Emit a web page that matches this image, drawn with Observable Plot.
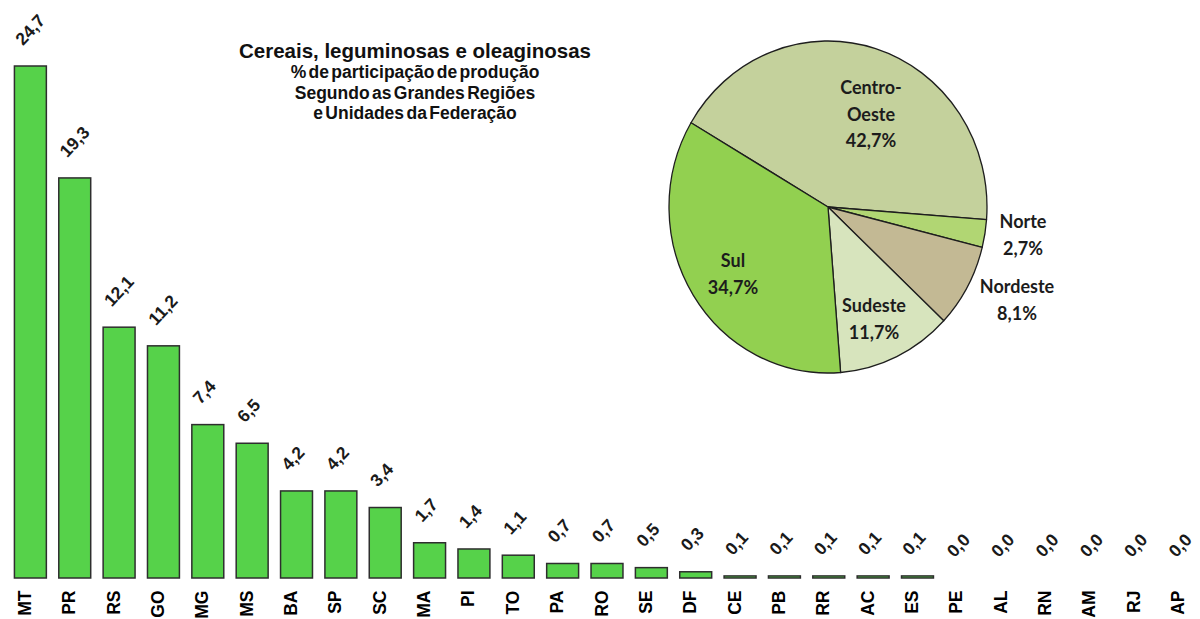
<!DOCTYPE html>
<html><head><meta charset="utf-8">
<script src="https://cdn.jsdelivr.net/npm/d3@7"></script>
<script src="https://cdn.jsdelivr.net/npm/@observablehq/plot@0.6"></script>
<style>
html,body{margin:0;padding:0;background:#fff;overflow:hidden}
#wrap{position:relative;width:1200px;height:619px;font-family:"Liberation Sans",Arial,sans-serif}
.t{position:absolute;left:215px;width:400px;text-align:center;font-weight:bold;color:#111;white-space:nowrap}
</style></head><body>
<div id="wrap"><div id="chart"></div></div>
<script>
// ---- data ----
const states = ["MT","PR","RS","GO","MG","MS","BA","SP","SC","MA","PI","TO","PA","RO","SE","DF","CE","PB","RR","AC","ES","PE","AL","RN","AM","RJ","AP"];
const values = [24.7,19.3,12.1,11.2,7.4,6.5,4.2,4.2,3.4,1.7,1.4,1.1,0.7,0.7,0.5,0.3,0.1,0.1,0.1,0.1,0.1,0.0,0.0,0.0,0.0,0.0,0.0];
const regions = ["Centro-Oeste","Norte","Nordeste","Sudeste","Sul"];
const regionLabelLines = [["Centro-","Oeste"],["Norte"],["Nordeste"],["Sudeste"],["Sul"]];
const regionShares = [42.7,2.7,8.1,11.7,34.7];
const titleText = "Cereais, leguminosas e oleaginosas";
const subtitleLines = ["% de participação de produção","Segundo as Grandes Regiões","e Unidades da Federação"];

// ---- layout / style ----
const regionColors = ["#c4d19c","#b1d673","#c3b994","#d7e4bd","#92d050"];
const regionLabelPos = [[871,94],[1023,228],[1017,293],[874,312],[733,267]];
const pieCx = 828, pieCy = 207, pieR = 159, pieSy = 1.044;
const pieStart = -59.5 * Math.PI / 180;

const rows = states.map((s, i) => ({state: s, value: values[i]}));
const fmt = v => v.toFixed(1).replace(".", ",");

function pieMark() {
  const g = d3.create("svg:g");
  const pg = g.append("g").attr("transform", `translate(${pieCx},${pieCy}) scale(1,${pieSy})`);
  const arcs = d3.pie().sort(null).startAngle(pieStart).endAngle(pieStart + 2 * Math.PI)(regionShares);
  const arc = d3.arc().innerRadius(0).outerRadius(pieR);
  pg.selectAll("path").data(arcs).join("path")
    .attr("d", arc)
    .attr("fill", (d, i) => regionColors[i])
    .attr("stroke", "#1e1e1e")
    .attr("stroke-width", 1.3)
    .attr("stroke-linejoin", "round");
  regions.forEach((r, i) => {
    const lines = [...regionLabelLines[i], fmt(regionShares[i]) + "%"];
    const [x, y] = regionLabelPos[i];
    const t = g.append("text")
      .attr("text-anchor", "middle")
      .attr("font-family", "Lato, 'Open Sans', sans-serif")
      .attr("font-weight", "bold")
      .attr("font-size", 18)
      .attr("fill", "#1c1c1c");
    lines.forEach((ln, j) => t.append("tspan").attr("x", x).attr("y", y + j * 26.7).text(ln));
  });
  return g.node();
}

const chart = Plot.plot({
  width: 1200,
  height: 619,
  marginTop: 0,
  marginLeft: 0,
  marginRight: 0,
  marginBottom: 41,
  style: {fontFamily: "'Liberation Sans', Arial, sans-serif", background: "#fff", overflow: "hidden"},
  x: {domain: states, range: [2, 1212], paddingInner: 0.28, paddingOuter: 0.28, round: false, axis: null},
  y: {domain: [0, 24.7], range: [578, 66], axis: null},
  marks: [
    Plot.barY(rows.filter(d => d.value > 0), {x: "state", y: "value", fill: "#56d24a", stroke: "#2e2e2e", strokeWidth: 1.5}),
    Plot.text(rows, {x: "state", y: "value", text: d => fmt(d.value), rotate: -47, textAnchor: "start", dx: -12, dy: -24, fontSize: 17.5, fontWeight: "bold", fill: "#1a1a1a"}),
    Plot.text(rows, {x: "state", frameAnchor: "bottom", text: "state", rotate: -90, textAnchor: "end", dy: 12, fontSize: 17.5, fontWeight: "bold", fill: "#000"}),
    pieMark
  ]
});
document.getElementById("chart").appendChild(chart);

const wrap = document.getElementById("wrap");
const mk = (txt, top, size, lh) => {
  const d = document.createElement("div");
  d.className = "t";
  d.style.top = top + "px";
  d.style.fontSize = size + "px";
  d.style.lineHeight = lh + "px";
  d.textContent = txt;
  wrap.appendChild(d);
  return d;
};
mk(titleText, 40, 20.5, 22);
subtitleLines.forEach((s, i) => { const d = mk(s, 62 + i * 20.5, 17.5, 21); d.style.wordSpacing = "-2.5px"; });
</script>
</body></html>
